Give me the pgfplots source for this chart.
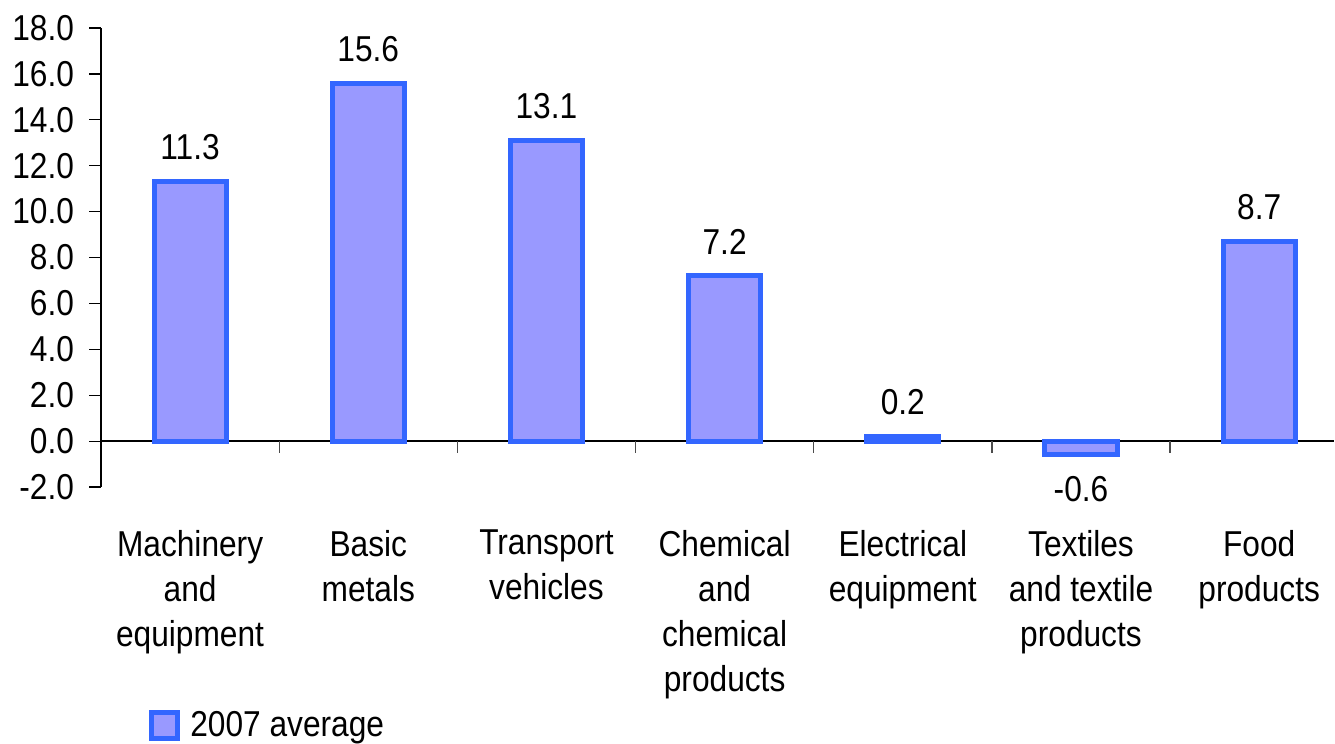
\documentclass[border=0pt]{standalone}
\usepackage{fontspec}
\setmainfont{Liberation Sans}[FakeStretch=0.88]
\usepackage{pgfplots}
\pgfplotsset{compat=1.18}
\definecolor{barfill}{HTML}{9999FF}
\definecolor{barline}{HTML}{3366FF}
\newcommand\lbl{\fontsize{18pt}{22.5pt}\selectfont}

\begin{document}
\begin{tikzpicture}
\begin{axis}[
  at={(50.5pt,-243.5pt)}, anchor=south west,
  scale only axis, width=616.5pt, height=229.5pt,
  xmin=-0.5, xmax=6.42, ymin=-2, ymax=18,
  clip=false,
  axis y line*=left, axis x line*=bottom,
  x axis line style={draw=none},
  y axis line style={line width=0.75pt, -},
  ytick={-2,0,...,18},
  tick align=outside, major tick length=6pt,
  y tick style={black, line width=0.6pt},
  xtick={0,...,6}, x tick style={draw=none},
  xticklabels={{Machinery\\and\\equipment},{Basic\\metals},{Transport\\vehicles},{Chemical\\and\\chemical\\products},{Electrical\\equipment},{Textiles\\and textile\\products},{Food\\products}},
  xticklabel style={align=center, font=\lbl, yshift=-12pt},
  yticklabel style={font=\lbl, xshift=-4pt},
  /pgf/number format/fixed,
  /pgf/number format/fixed zerofill,
  /pgf/number format/precision=1,
  /pgf/number format/assume math mode=true,
  legend style={at={(axis description cs:0.034,-0.52)}, anchor=west,
    draw=none, fill=none, font=\lbl},
]
% zero line
\draw[black, line width=0.75pt] (axis cs:-0.5,0) -- (axis cs:6.42,0);
% category separators
\draw[black!70, line width=0.6pt] (axis cs:0.5,0) -- ([yshift=-6pt]axis cs:0.5,0);
\draw[black!70, line width=0.6pt] (axis cs:1.5,0) -- ([yshift=-6pt]axis cs:1.5,0);
\draw[black!70, line width=0.6pt] (axis cs:2.5,0) -- ([yshift=-6pt]axis cs:2.5,0);
\draw[black!70, line width=0.6pt] (axis cs:3.5,0) -- ([yshift=-6pt]axis cs:3.5,0);
\draw[black!70, line width=0.6pt] (axis cs:4.5,0) -- ([yshift=-6pt]axis cs:4.5,0);
\draw[black!70, line width=0.6pt] (axis cs:5.5,0) -- ([yshift=-6pt]axis cs:5.5,0);

\addplot[ybar, bar width=0.405, fill=barfill, draw=barline, line width=2.5pt,
  nodes near coords, nodes near coords align={vertical},
  every node near coord/.append style={font=\lbl, black, inner sep=9.5pt},
  legend image code/.code={\draw[fill=barfill, draw=barline, line width=2.5pt] (0pt,-6.5pt) rectangle (13pt,6.5pt); \path (16pt,0pt);}
] coordinates {(0,11.3) (1,15.6) (2,13.1) (3,7.2) (4,0.2) (5,-0.6) (6,8.7)};
\addlegendentry{2007 average}
\end{axis}
\pgfresetboundingbox
\path[use as bounding box] (0pt,0pt) rectangle (667.5pt,-372pt);
\end{tikzpicture}
\end{document}
